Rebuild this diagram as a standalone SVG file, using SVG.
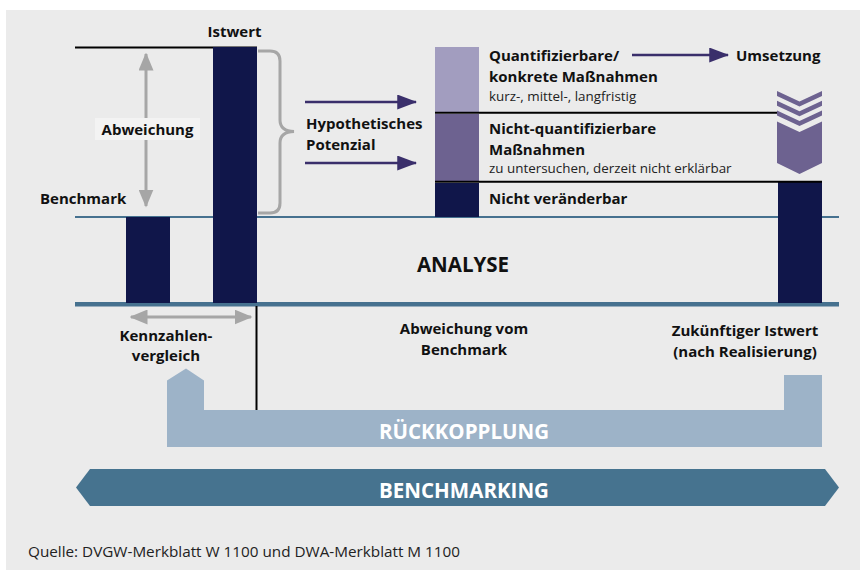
<svg xmlns="http://www.w3.org/2000/svg" width="860" height="570" viewBox="0 0 860 570">
<defs>
<style>
.b{font-family:"Open Sans","Noto Sans","DejaVu Sans",sans-serif;font-weight:bold;font-size:15px;fill:#111}
.r{font-family:"Open Sans","Noto Sans","DejaVu Sans",sans-serif;font-size:13.4px;fill:#222}
.w{font-family:"Open Sans","Noto Sans","DejaVu Sans",sans-serif;font-weight:bold;font-size:20.5px;fill:#fff}
.navy{fill:#10164a}
.gr{stroke:#a6a6a6;stroke-width:3;fill:none}
.pa{stroke:#3a2f6b;stroke-width:2.5;fill:none}
</style>
<marker id="ga" markerWidth="6" markerHeight="5" refX="5.5" refY="2.5" orient="auto-start-reverse" markerUnits="strokeWidth"><path d="M0,0 L6,2.5 L0,5 Z" fill="#a6a6a6"/></marker>
<marker id="pa" markerWidth="8" markerHeight="6" refX="7.5" refY="3" orient="auto" markerUnits="strokeWidth"><path d="M0,0 L8,3 L0,6 Z" fill="#3a2f6b"/></marker>
</defs>
<rect x="6" y="10" width="854" height="560" fill="#ebebeb"/>

<g id="lines">
<line x1="75" y1="47.5" x2="257" y2="47.5" stroke="#000" stroke-width="2"/>
<line x1="75" y1="217" x2="839" y2="217" stroke="#46718f" stroke-width="2"/>
<rect x="75" y="302" width="764" height="4.5" fill="#46718f"/>
</g>

<g id="bars">
<rect class="navy" x="126" y="217" width="44" height="86"/>
<rect class="navy" x="213" y="47" width="44" height="256"/>
<rect class="navy" x="778" y="182" width="44" height="121"/>
</g>

<g id="abweichung">
<line class="gr" x1="146" y1="54" x2="146" y2="206" marker-start="url(#ga)" marker-end="url(#ga)"/>
<rect x="95" y="118" width="105" height="22" fill="#f3f3f3"/>
<text class="b" x="147.5" y="134.5" text-anchor="middle">Abweichung</text>
</g>
<g id="istwert"><text class="b" x="234.5" y="37" text-anchor="middle">Istwert</text></g>
<g id="benchmark"><text class="b" x="40" y="204">Benchmark</text></g>

<g id="brace">
<path class="gr" d="M258,51 H270 Q280,51 280,61 V120 Q280,131 294,131.5 Q280,132 280,143 V203 Q280,213 270,213 H258"/>
</g>

<g id="potenzial">
<line class="pa" x1="305" y1="102" x2="416" y2="102" marker-end="url(#pa)"/>
<line class="pa" x1="305" y1="163" x2="416" y2="163" marker-end="url(#pa)"/>
<text class="b" x="306" y="129">Hypothetisches</text>
<text class="b" x="306" y="150">Potenzial</text>
</g>

<g id="stack">
<rect x="435" y="47" width="44" height="65" fill="#a29dbf"/>
<rect x="435" y="114" width="44" height="67" fill="#6d6290"/>
<rect class="navy" x="435" y="183" width="44" height="34"/>
<line x1="435" y1="112.7" x2="777" y2="112.7" stroke="#000" stroke-width="2"/>
<line x1="435" y1="181.7" x2="822" y2="181.7" stroke="#000" stroke-width="2"/>
</g>

<g id="quant">
<text class="b" x="489" y="61">Quantifizierbare/</text>
<text class="b" x="489" y="82">konkrete Maßnahmen</text>
<text class="r" x="489" y="101">kurz-, mittel-, langfristig</text>
</g>
<g id="nichtquant">
<text class="b" x="489" y="134">Nicht-quantifizierbare</text>
<text class="b" x="489" y="155">Maßnahmen</text>
<text class="r" x="489" y="173">zu untersuchen, derzeit nicht erklärbar</text>
</g>
<g id="nichtver"><text class="b" x="489" y="204">Nicht veränderbar</text></g>

<g id="umsetzung">
<line class="pa" x1="632" y1="55" x2="728" y2="55" marker-end="url(#pa)"/>
<text class="b" x="736" y="61">Umsetzung</text>
</g>

<g id="chevron" fill="#6d6290">
<polygon points="777,91 799.5,101.5 822,91 822,96 799.5,106.5 777,96"/>
<polygon points="777,100.7 799.5,111.2 822,100.7 822,105.7 799.5,116.2 777,105.7"/>
<polygon points="777,110.5 799.5,121 822,110.5 822,115.5 799.5,126 777,115.5"/>
<polygon points="777,121.5 799.5,132 822,121.5 822,163 799.5,174 777,163"/>
</g>

<g id="analyse"><text class="b" x="463" y="272" text-anchor="middle" style="font-size:20.5px">ANALYSE</text></g>

<g id="kennzahlen">
<line class="gr" x1="131" y1="317" x2="251" y2="317" marker-start="url(#ga)" marker-end="url(#ga)"/>
<text class="b" x="166" y="341" text-anchor="middle">Kennzahlen-</text>
<text class="b" x="166" y="361" text-anchor="middle">vergleich</text>
</g>
<line x1="256.5" y1="306" x2="256.5" y2="410" stroke="#000" stroke-width="2"/>

<g id="abwvom">
<text class="b" x="464" y="334" text-anchor="middle">Abweichung vom</text>
<text class="b" x="464" y="355" text-anchor="middle">Benchmark</text>
</g>
<g id="zukuenftig">
<text class="b" x="745" y="336" text-anchor="middle">Zukünftiger Istwert</text>
<text class="b" x="745" y="357" text-anchor="middle">(nach Realisierung)</text>
</g>

<g id="rueckkopplung">
<path d="M167,447 V380.5 L186,368.5 L204,380.5 V410 H784 V375 H822 V447 Z" fill="#9db3c8"/>
<text class="w" x="464" y="439" text-anchor="middle">RÜCKKOPPLUNG</text>
</g>

<g id="benchmarking">
<polygon points="76,487.5 90,469 825,469 839,487.5 825,506 90,506" fill="#46738f"/>
<text class="w" x="464" y="498" text-anchor="middle" textLength="170" lengthAdjust="spacingAndGlyphs">BENCHMARKING</text>
</g>

<g id="quelle"><text class="r" x="28" y="557" style="font-size:15px;fill:#222" textLength="432" lengthAdjust="spacingAndGlyphs">Quelle: DVGW-Merkblatt W 1100 und DWA-Merkblatt M 1100</text></g>
</svg>
